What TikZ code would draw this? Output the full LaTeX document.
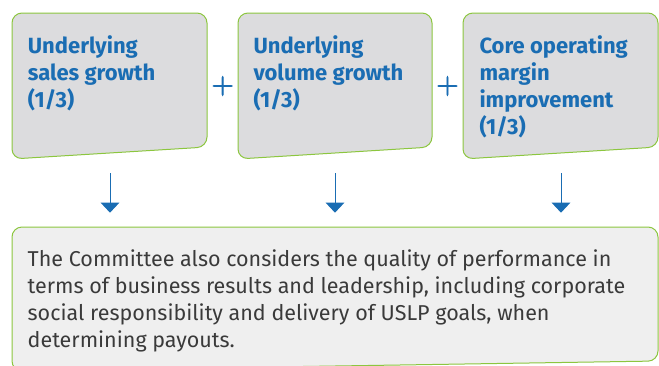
\documentclass[tikz,border=0pt]{standalone}
\usepackage{fontspec}
\usetikzlibrary{arrows.meta}
\newfontfamily\headfont{Fira Sans}
\newfontfamily\bodyfont{Fira Sans}
\newfontfamily\plusfont[FakeBold=3]{Latin Modern Roman}
\definecolor{ublue}{HTML}{1A6DB3}
\definecolor{boxgray}{HTML}{DCDCDE}
\definecolor{paleGray}{HTML}{EFEFEF}
\definecolor{borderGreen}{HTML}{8CC63F}
\definecolor{bodyText}{HTML}{3A3A3A}
\tikzset{
  topbox/.style={draw=borderGreen, fill=boxgray, line width=1pt, rounded corners=10pt},
  basebox/.style={draw=borderGreen, fill=paleGray, line width=1pt, rounded corners=10pt},
  head/.style={font=\headfont\bfseries\fontsize{22}{27}\selectfont, text=ublue, align=left, inner sep=0pt, anchor=base west},
  bodytxt/.style={font=\bodyfont\fontsize{21.5}{27}\selectfont, text=bodyText, align=left, inner sep=0pt, anchor=base west},
  plussign/.style={font=\plusfont\fontsize{30}{30}\selectfont, text=ublue, inner sep=0pt},
  arr/.style={draw=ublue, line width=1pt, -{Triangle[width=18.5pt,length=10pt]}}
}
\begin{document}
\begin{tikzpicture}[x=1pt,y=-1pt]
\useasboundingbox (0,0) rectangle (659,365);
\clip (0,0) rectangle (659,365);
% top boxes
\draw[topbox] (110,13) -- (207,13) -- (207,147) -- (12,159) -- (12,13) -- cycle;
\draw[topbox] (335,13) -- (432,13) -- (432,147) -- (238,159) -- (238,13) -- cycle;
\draw[topbox] (560,13) -- (658,13) -- (658,147) -- (463,159) -- (463,13) -- cycle;
% bottom box
\draw[basebox] (335,227) -- (658,227) -- (658,361) -- (12,371) -- (12,227) -- cycle;
% texts (anchor = baseline of last line)
\node[head] (t1) at (27.7,107.3) {Underlying\\sales growth\\(1/3)};
\node[head] (t2) at (253.3,107.3) {Underlying\\volume growth\\(1/3)};
\node[head] (t3) at (479.3,134.3) {Core operating\\margin\\improvement\\(1/3)};
\node[bodytxt] (t4) at (27.5,347) {The Committee also considers the quality of performance in\\terms of business results and leadership, including corporate\\social responsibility and delivery of USLP goals, when\\determining payouts.};
% plus signs
\node[plussign] (p1) at (222.7,86) {+};
\node[plussign] (p2) at (447.5,86) {+};
% arrows
\coordinate (a1s) at (110,173); \coordinate (a1e) at (110,212.7);
\coordinate (a2s) at (335,173); \coordinate (a2e) at (335,212.7);
\coordinate (a3s) at (561,173); \coordinate (a3e) at (561,212.7);
\draw[arr] (a1s) -- (a1e);
\draw[arr] (a2s) -- (a2e);
\draw[arr] (a3s) -- (a3e);
\end{tikzpicture}
\end{document}
